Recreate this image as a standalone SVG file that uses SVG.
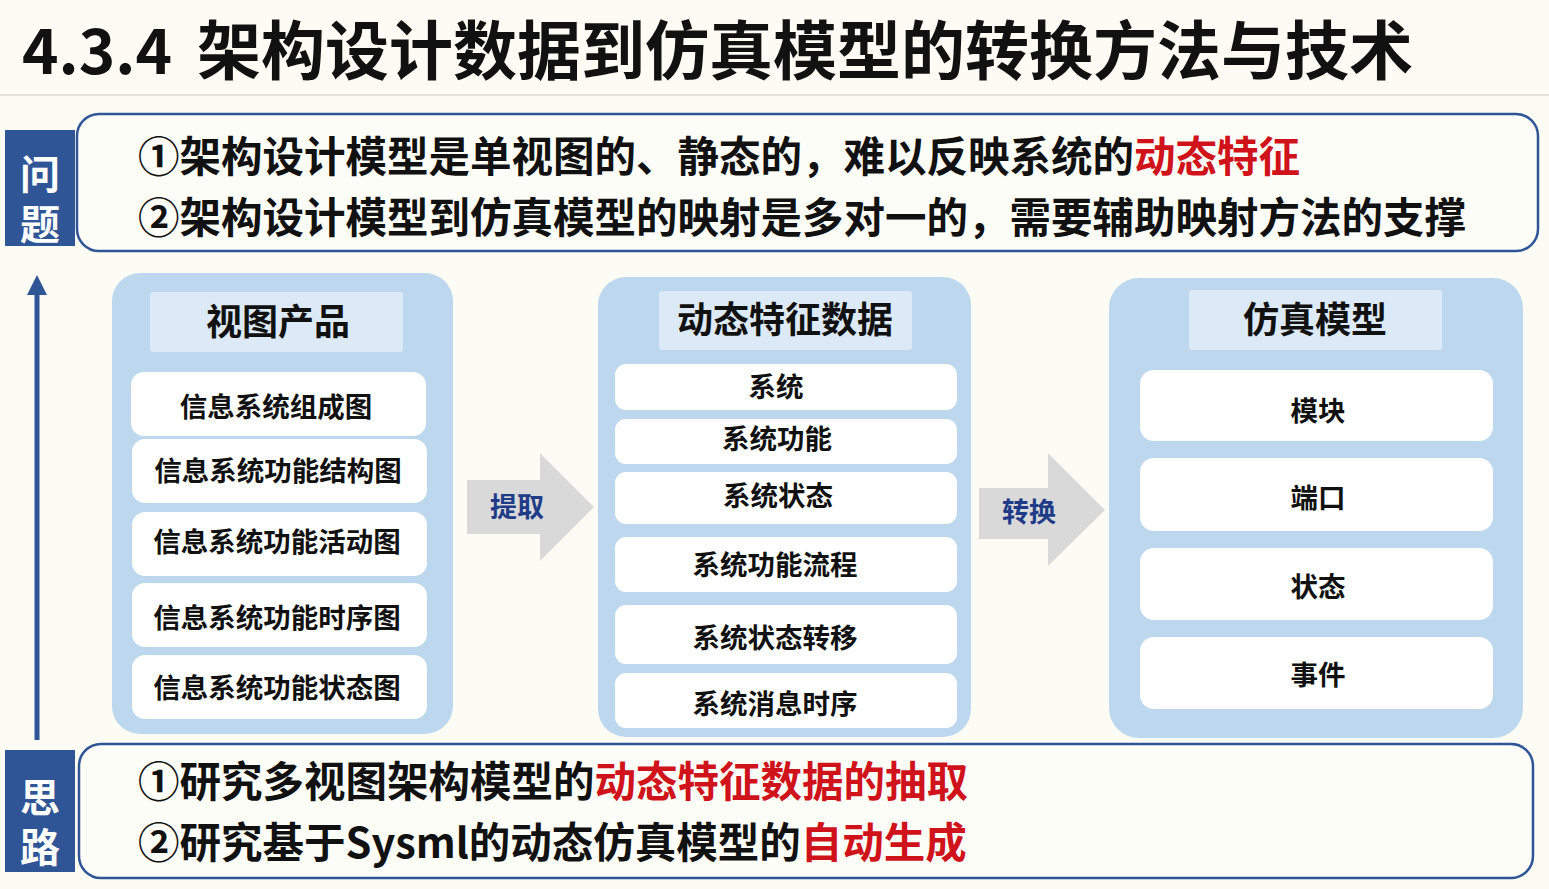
<svg xmlns="http://www.w3.org/2000/svg" width="1549" height="889" viewBox="0 0 1549 889">
<style>
text{font-family:"Noto Sans CJK SC","Noto Sans",sans-serif;font-weight:bold;}
.panel{fill:#bdd7ee;}
.head{fill:#dce9f6;}
.item{fill:#ffffff;}
.ht{font-size:36px;fill:#111;text-anchor:middle;}
.it{font-size:27.5px;fill:#111;text-anchor:middle;}
.big{font-size:41.5px;fill:#111;}
.red{fill:#d0121b;}
.tag{fill:#2f5597;}
.tagt{font-size:40px;fill:#fff;writing-mode:vertical-rl;letter-spacing:10px;}
.box{fill:#fdfdf8;stroke:#2f5597;stroke-width:2.5;}
.arr{fill:#d9d9d9;}
.al{font-size:27px;fill:#1f3c88;text-anchor:middle;}
</style>
<defs>
<marker id="ah" markerWidth="4" markerHeight="4" refX="2" refY="2" orient="auto" markerUnits="strokeWidth">
<path d="M0,0 L4,2 L0,4 Z" fill="#2f5597"/>
</marker>
</defs>
<rect width="1549" height="889" fill="#fcfcf4"/>
<text x="22" y="74" style="font-size:62px;fill:#111;">4.3.4</text>
<text x="197" y="74" style="font-size:64px;fill:#111;">架构设计数据到仿真模型的转换方法与技术</text>
<line x1="0" y1="95" x2="1549" y2="95" stroke="#e4e4e0" stroke-width="2"/>

<g id="problem">
<rect class="box" x="77" y="114" width="1461" height="137" rx="22"/>
<rect class="tag" x="5" y="130" width="70" height="116"/>
<text class="tagt" x="40" y="154">问题</text>
<text class="big" x="138" y="172">①架构设计模型是单视图的、静态的，难以反映系统的<tspan class="red">动态特征</tspan></text>
<text class="big" x="138" y="233">②架构设计模型到仿真模型的映射是多对一的，需要辅助映射方法的支撑</text>
</g>

<g id="idea">
<rect class="box" x="79" y="744" width="1454" height="134" rx="22"/>
<rect class="tag" x="5" y="750" width="70" height="122"/>
<text class="tagt" x="40" y="777">思路</text>
<text class="big" x="138" y="797">①研究多视图架构模型的<tspan class="red">动态特征数据的抽取</tspan></text>
<text class="big" x="138" y="858">②研究基于Sysml的动态仿真模型的<tspan class="red">自动生成</tspan></text>
</g>

<g id="view-products">
<rect class="panel" x="112" y="273" width="341" height="461" rx="28"/>
<rect class="head" x="150" y="292" width="253" height="60" rx="3"/>
<text class="ht" x="278" y="335">视图产品</text>
<rect class="item" x="131" y="372" width="295" height="64" rx="13"/>
<text class="it" x="276" y="417">信息系统组成图</text>
<rect class="item" x="132" y="439" width="295" height="64" rx="13"/>
<text class="it" x="278" y="481">信息系统功能结构图</text>
<rect class="item" x="132" y="512" width="295" height="64" rx="13"/>
<text class="it" x="277" y="552">信息系统功能活动图</text>
<rect class="item" x="132" y="583" width="295" height="64" rx="13"/>
<text class="it" x="277" y="628">信息系统功能时序图</text>
<rect class="item" x="132" y="655" width="295" height="64" rx="13"/>
<text class="it" x="277" y="698">信息系统功能状态图</text>
</g>

<g id="dynamic-data">
<rect class="panel" x="598" y="277" width="373" height="460" rx="28"/>
<rect class="head" x="659" y="291" width="253" height="59" rx="3"/>
<text class="ht" x="785" y="333">动态特征数据</text>
<rect class="item" x="615" y="364" width="342" height="46" rx="11"/>
<text class="it" x="776" y="397">系统</text>
<rect class="item" x="615" y="419" width="342" height="45" rx="11"/>
<text class="it" x="777" y="449">系统功能</text>
<rect class="item" x="615" y="472" width="342" height="52" rx="11"/>
<text class="it" x="778" y="506">系统状态</text>
<rect class="item" x="615" y="537" width="342" height="55" rx="11"/>
<text class="it" x="775" y="575">系统功能流程</text>
<rect class="item" x="615" y="605" width="342" height="59" rx="11"/>
<text class="it" x="775" y="648">系统状态转移</text>
<rect class="item" x="615" y="673" width="342" height="55" rx="11"/>
<text class="it" x="775" y="714">系统消息时序</text>
</g>

<g id="sim-model">
<rect class="panel" x="1109" y="278" width="414" height="460" rx="30"/>
<rect class="head" x="1189" y="290" width="253" height="60" rx="3"/>
<text class="ht" x="1315" y="333">仿真模型</text>
<rect class="item" x="1140" y="370" width="353" height="71" rx="14"/>
<text class="it" x="1318" y="421">模块</text>
<rect class="item" x="1140" y="458" width="353" height="73" rx="14"/>
<text class="it" x="1318" y="508">端口</text>
<rect class="item" x="1140" y="548" width="353" height="72" rx="14"/>
<text class="it" x="1318" y="597">状态</text>
<rect class="item" x="1140" y="637" width="353" height="72" rx="14"/>
<text class="it" x="1318" y="685">事件</text>
</g>

<g id="connectors">
<path class="arr" d="M467,480 L540,480 L540,453 L594,507 L540,561 L540,534 L467,534 Z"/>
<text class="al" x="517" y="517">提取</text>
<path class="arr" d="M979,488 L1048,488 L1048,453 L1105,510 L1048,566 L1048,539 L979,539 Z"/>
<text class="al" x="1029" y="522">转换</text>
<line x1="37" y1="740" x2="37" y2="285" stroke="#2f5597" stroke-width="5" marker-end="url(#ah)"/>
</g>
</svg>
